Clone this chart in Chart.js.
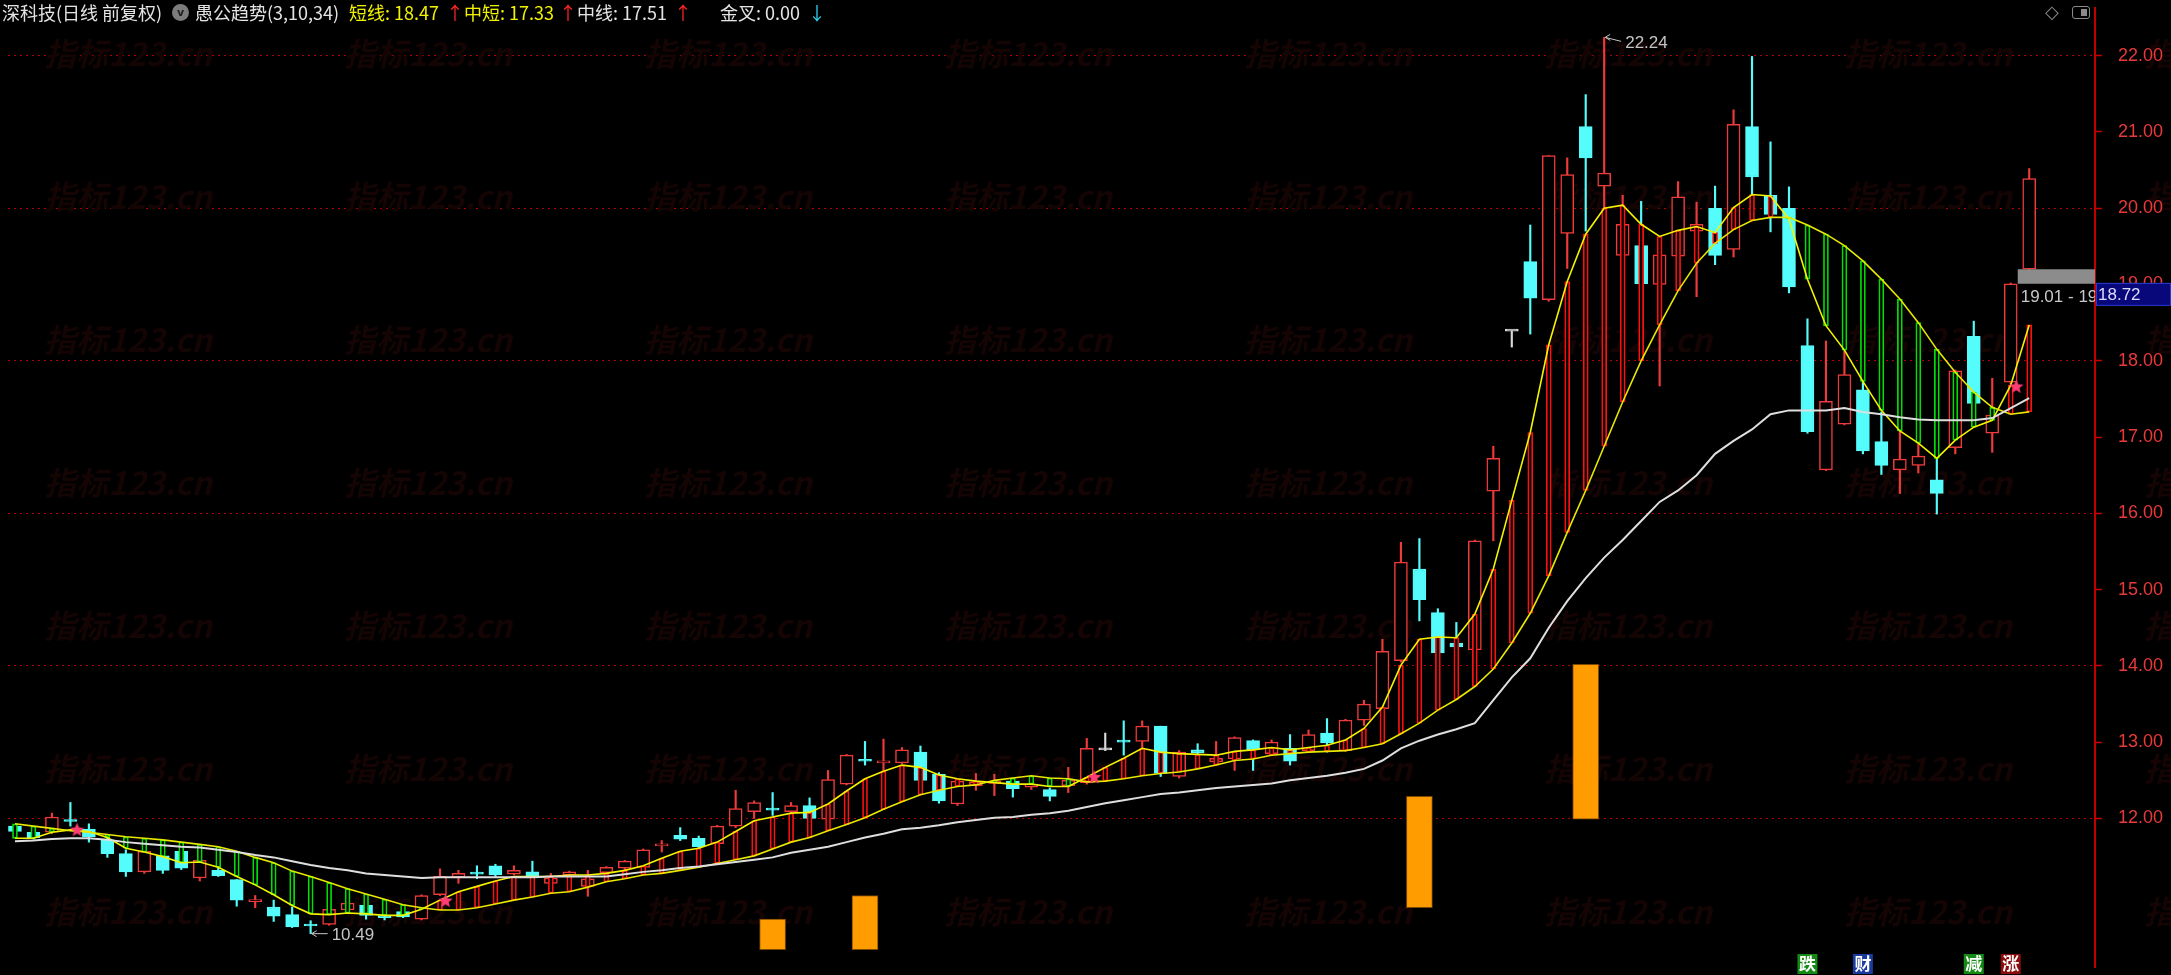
<!DOCTYPE html>
<html>
<head>
<meta charset="utf-8">
<script src="https://cdn.jsdelivr.net/npm/chart.js@4.4.0/dist/chart.umd.min.js"></script>
<style>
html, body { margin: 0; padding: 0; background: #000; overflow: hidden; }
#wrap { position: relative; width: 2171px; height: 975px; overflow: hidden; background: #000; }
#grafico { position: absolute; left: 0; top: 0; }
.hd { position: absolute; top: 1px; font-size: 18px; font-family: "Noto Sans CJK SC", sans-serif; line-height: 22px; white-space: nowrap; color: #e4e4e4; }
.yel { color: #f2f200; }
.up { color: #ff2424; }
.dn { color: #2ad4f2; }
#knob { position: absolute; left: 172px; top: 4px; width: 17px; height: 17px; border-radius: 50%; background: #7c7c7c; color: #202020; font: bold 11px "DejaVu Sans", sans-serif; line-height: 17px; text-align: center; }
#dia { position: absolute; left: 2045px; top: 1px; font: 18px "DejaVu Sans", sans-serif; color: #8a8a8a; }
#win { position: absolute; left: 2072px; top: 6px; width: 16px; height: 11px; border: 1.5px solid #8a8a8a; border-radius: 3px; }
#win div { position: absolute; right: 2px; top: 2px; width: 6px; height: 7px; background: #8a8a8a; }
</style>
</head>
<body>
<div id="wrap">
  <canvas id="grafico" width="2171" height="975"></canvas>
  <div class="hd" style="left:2px">深科技(日线 前复权)</div>
  <div id="knob">v</div>
  <div class="hd" style="left:195px">愚公趋势(3,10,34)</div>
  <div class="hd yel" style="left:349px" id="hShort"></div>
  <div class="hd up" style="left:446px">↑</div>
  <div class="hd yel" style="left:464px" id="hMid"></div>
  <div class="hd up" style="left:559px">↑</div>
  <div class="hd" style="left:577px" id="hLong"></div>
  <div class="hd up" style="left:674px">↑</div>
  <div class="hd" style="left:720px" id="hGold"></div>
  <div class="hd dn" style="left:808px">↓</div>
  <div id="dia">◇</div>
  <div id="win"><div></div></div>
</div>
<script>
// K线数据 (前复权)
const open = [11.90,11.82,11.82,11.98,11.86,11.72,11.54,11.30,11.51,11.57,
  11.22,11.32,11.20,10.91,10.84,10.74,10.61,10.61,10.80,10.86,
  10.72,10.78,10.68,11.00,11.23,11.29,11.38,11.27,11.30,11.15,
  11.26,11.11,11.29,11.35,11.36,11.64,11.78,11.74,11.67,11.90,
  12.09,12.13,12.09,12.17,11.99,12.45,12.77,12.73,12.73,12.87,
  12.58,12.19,12.43,12.46,12.49,12.41,12.38,12.43,12.47,12.90,
  13.02,13.01,13.21,12.55,12.90,12.74,12.78,13.02,12.85,12.92,
  12.89,13.12,12.89,13.29,13.44,14.07,15.27,14.70,14.30,14.21,
  16.29,18.39,19.30,18.80,19.67,21.07,20.29,19.38,19.51,19.00,
  19.37,19.70,20.00,19.46,21.07,20.17,20.00,18.20,16.57,17.17,
  17.62,16.94,16.57,16.63,16.44,16.86,18.32,17.05,17.72,19.20];
const high = [11.92,11.84,12.07,12.21,11.93,11.74,11.59,11.58,11.61,11.60,
  11.46,11.36,11.20,10.99,10.93,10.84,10.66,10.82,10.90,10.88,
  10.76,10.80,11.00,11.34,11.32,11.38,11.40,11.38,11.44,11.28,
  11.31,11.32,11.37,11.45,11.60,11.71,11.88,11.77,11.91,12.37,
  12.23,12.34,12.21,12.27,12.63,12.84,13.01,13.04,12.93,12.95,
  12.60,12.50,12.59,12.58,12.50,12.47,12.40,12.67,13.05,13.12,
  13.28,13.28,13.21,12.89,12.98,13.01,13.07,13.03,13.03,13.10,
  13.16,13.31,13.30,13.55,14.35,15.62,15.67,14.75,14.57,15.65,
  16.88,18.39,19.78,20.69,20.66,21.49,22.24,20.17,20.09,19.42,
  20.35,20.08,20.29,21.29,21.99,20.87,20.28,18.55,18.26,18.13,
  17.73,17.33,17.08,16.93,16.74,17.88,18.52,17.77,19.02,20.52];
const low = [11.80,11.73,11.80,11.90,11.69,11.49,11.24,11.28,11.28,11.33,
  11.18,11.24,10.85,10.83,10.65,10.57,10.49,10.60,10.79,10.68,
  10.67,10.70,10.67,10.99,11.15,11.21,11.24,11.26,11.19,11.02,
  11.22,10.98,11.20,11.23,11.33,11.56,11.71,11.61,11.65,11.88,
  12.00,12.04,12.05,11.99,11.98,12.44,12.70,12.48,12.72,12.48,
  12.20,12.17,12.37,12.30,12.28,12.38,12.23,12.34,12.45,12.89,
  12.83,12.93,12.55,12.53,12.84,12.70,12.63,12.63,12.84,12.70,
  12.87,12.87,12.88,13.22,13.40,14.05,14.59,14.15,14.23,14.20,
  15.64,18.18,18.35,18.78,19.21,19.70,19.99,19.35,18.98,17.67,
  19.30,18.84,19.26,19.36,20.18,19.69,18.89,17.05,16.56,17.16,
  16.78,16.51,16.26,16.53,15.99,16.78,17.43,16.80,17.70,19.18];
const close = [11.83,11.75,12.02,11.96,11.76,11.54,11.30,11.57,11.32,11.35,
  11.45,11.25,10.93,10.93,10.72,10.58,10.59,10.81,10.89,10.73,
  10.70,10.71,10.99,11.24,11.28,11.27,11.26,11.32,11.22,11.22,
  11.30,11.21,11.36,11.44,11.59,11.66,11.73,11.63,11.90,12.13,
  12.21,12.11,12.17,12.00,12.51,12.83,12.75,12.75,12.90,12.50,
  12.23,12.49,12.48,12.49,12.39,12.45,12.29,12.50,12.92,12.90,
  13.00,13.21,12.59,12.87,12.86,12.79,13.06,12.90,13.00,12.75,
  13.10,12.99,13.29,13.50,14.19,15.36,14.87,14.17,14.25,15.64,
  16.72,18.39,18.82,20.69,20.44,20.66,20.46,19.79,19.01,19.39,
  20.15,19.79,19.38,21.10,20.41,19.92,18.97,17.07,17.47,17.82,
  16.82,16.63,16.71,16.75,16.26,17.87,17.44,17.29,19.01,20.39];

// 愚公趋势 指标线
const shortLine = [11.74,11.74,11.82,11.85,11.83,11.75,11.61,11.56,11.50,11.42,
  11.43,11.36,11.24,11.13,11.00,10.86,10.75,10.74,10.76,10.75,
  10.73,10.73,10.81,10.93,11.04,11.11,11.18,11.24,11.24,11.24,
  11.26,11.26,11.28,11.32,11.38,11.48,11.57,11.61,11.69,11.83,
  11.97,12.02,12.07,12.08,12.19,12.36,12.52,12.62,12.70,12.67,
  12.57,12.52,12.49,12.47,12.45,12.45,12.42,12.42,12.54,12.67,
  12.79,12.92,12.87,12.85,12.84,12.83,12.88,12.90,12.93,12.90,
  12.93,12.96,13.03,13.18,13.46,14.01,14.35,14.38,14.37,14.68,
  15.27,16.17,17.06,18.21,19.04,19.66,20.00,20.04,19.79,19.63,
  19.71,19.76,19.68,20.01,20.18,20.16,19.86,19.07,18.46,18.14,
  17.73,17.35,17.08,16.92,16.72,16.96,17.13,17.22,17.68,18.47];
const midShort = [11.93,11.90,11.87,11.84,11.82,11.79,11.76,11.74,11.72,11.69,
  11.66,11.63,11.57,11.49,11.42,11.31,11.24,11.16,11.08,11.01,
  10.94,10.87,10.83,10.80,10.80,10.83,10.88,10.93,10.97,11.02,
  11.04,11.10,11.17,11.21,11.26,11.28,11.32,11.36,11.41,11.46,
  11.51,11.60,11.69,11.75,11.84,11.92,12.01,12.12,12.22,12.31,
  12.37,12.42,12.44,12.50,12.53,12.56,12.53,12.52,12.48,12.49,
  12.52,12.56,12.59,12.61,12.65,12.70,12.76,12.78,12.83,12.85,
  12.87,12.88,12.89,12.93,12.98,13.11,13.25,13.42,13.56,13.73,
  13.96,14.30,14.69,15.18,15.75,16.30,16.88,17.46,18.00,18.47,
  18.92,19.28,19.54,19.72,19.84,19.88,19.88,19.78,19.66,19.51,
  19.31,19.07,18.81,18.50,18.15,17.85,17.59,17.39,17.30,17.33];
const midLine = [11.70,11.71,11.73,11.74,11.74,11.72,11.69,11.67,11.65,11.63,
  11.62,11.59,11.56,11.52,11.49,11.44,11.39,11.35,11.32,11.28,
  11.26,11.24,11.22,11.23,11.23,11.23,11.23,11.23,11.23,11.24,
  11.24,11.24,11.24,11.27,11.30,11.32,11.35,11.37,11.40,11.43,
  11.46,11.49,11.55,11.59,11.63,11.69,11.75,11.80,11.86,11.88,
  11.91,11.95,11.98,12.01,12.02,12.05,12.07,12.10,12.15,12.20,
  12.24,12.28,12.32,12.34,12.37,12.40,12.42,12.44,12.46,12.50,
  12.53,12.56,12.60,12.65,12.76,12.92,13.02,13.10,13.17,13.25,
  13.55,13.85,14.10,14.50,14.85,15.15,15.42,15.65,15.90,16.15,
  16.30,16.50,16.78,16.95,17.10,17.30,17.35,17.35,17.35,17.38,
  17.33,17.30,17.26,17.23,17.22,17.22,17.22,17.25,17.38,17.51];
const goldCross = 0.00;

// 金叉星号
const starX = [3.36, 23.3, 58.4, 108.3];
const starY = [11.86, 10.93, 12.55, 17.67];

// 底部柱
const stickIdx = [41, 46, 76, 85];
const stickLow = [10.28, 10.28, 10.83, 11.99];
const stickHigh = [10.68, 10.99, 12.29, 14.02];

// 底部信号
const signalIdx = [97, 100, 106, 108];
const signalText = ['跌', '财', '减', '涨'];

// 缺口 / 现价
const gapIdx = 108;
const gapRange = [19.01, 19.20];
const curPrice = 18.72;

const yTicks = [12, 13, 14, 15, 16, 17, 18, 19, 20, 21, 22];

const RED = '#ee3a3a', CYAN = '#54fcfc', WHITE = '#d8d8d8';
const signalBg = { '跌': '#148a14', '财': '#1b3a9e', '减': '#148a14', '涨': '#8a0c0c' };

document.getElementById('hShort').textContent = '短线: ' + shortLine[shortLine.length - 1].toFixed(2);
document.getElementById('hMid').textContent = '中短: ' + midShort[midShort.length - 1].toFixed(2);
document.getElementById('hLong').textContent = '中线: ' + midLine[midLine.length - 1].toFixed(2);
document.getElementById('hGold').textContent = '金叉: ' + goldCross.toFixed(2);

const idx = open.map(function(_, i) { return i; });
const candleColor = idx.map(function(i) {
  return close[i] > open[i] ? RED : (close[i] < open[i] ? CYAN : WHITE);
});

function starImg(size, color) {
  const c = document.createElement('canvas');
  c.width = c.height = size;
  const g = c.getContext('2d');
  g.fillStyle = color;
  g.beginPath();
  for (let k = 0; k < 10; k++) {
    const r = k % 2 ? size * 0.22 : size * 0.5;
    const a = -Math.PI / 2 + k * Math.PI / 5;
    g.lineTo(size / 2 + r * Math.cos(a), size / 2 + r * Math.sin(a) + 1);
  }
  g.closePath();
  g.fill();
  return c;
}

function markExtreme(ctx, x, y, txt, dy) {
  ctx.save();
  ctx.strokeStyle = '#c4c4c4';
  ctx.lineWidth = 1;
  ctx.beginPath();
  ctx.moveTo(x + 1, y);
  ctx.lineTo(x + 17, y + dy);
  ctx.moveTo(x + 6, y - 3);
  ctx.lineTo(x + 1, y);
  ctx.lineTo(x + 6, y + 3);
  ctx.stroke();
  ctx.fillStyle = '#c4c4c4';
  ctx.font = '17px "Liberation Sans"';
  ctx.textBaseline = 'middle';
  ctx.fillText(txt, x + 21, y + dy + 2);
  ctx.restore();
}

const extras = {
  id: 'extras',
  beforeDatasetsDraw(chart) {
    // 水印
    const ctx = chart.ctx;
    ctx.save();
    ctx.font = 'italic bold 32px "Noto Sans CJK SC"';
    ctx.fillStyle = '#140404';
    ctx.textBaseline = 'middle';
    for (let c = 0; c < 8; c++) {
      for (let r = 0; r < 7; r++) {
        ctx.fillText('指标123.cn', 44 + 300 * c, 54 + 143 * r);
      }
    }
    ctx.restore();
  },
  afterDatasetsDraw(chart) {
    const ctx = chart.ctx, xs = chart.scales.x, ys = chart.scales.y, area = chart.chartArea;
    const hiIdx = high.indexOf(Math.max.apply(null, high));
    const loIdx = low.indexOf(Math.min.apply(null, low));
    markExtreme(ctx, xs.getPixelForValue(hiIdx), ys.getPixelForValue(high[hiIdx]), high[hiIdx].toFixed(2), 4);
    markExtreme(ctx, xs.getPixelForValue(loIdx), ys.getPixelForValue(low[loIdx]), low[loIdx].toFixed(2), 0);

    // 缺口
    const gx = xs.getPixelForValue(gapIdx) + 7;
    const gTop = ys.getPixelForValue(gapRange[1]), gBot = ys.getPixelForValue(gapRange[0]);
    ctx.save();
    ctx.beginPath();
    ctx.rect(area.left, area.top, area.right - area.left, area.bottom - area.top);
    ctx.clip();
    ctx.fillStyle = '#8c8c8c';
    ctx.fillRect(gx, gTop, area.right - gx, gBot - gTop);
    ctx.fillStyle = '#c8c8c8';
    ctx.font = '17px "Liberation Sans"';
    ctx.textBaseline = 'middle';
    ctx.fillText(gapRange[0].toFixed(2) + ' - ' + gapRange[1].toFixed(2), gx + 3, gBot + 14);
    ctx.restore();
  },
  afterDraw(chart) {
    const ctx = chart.ctx, xs = chart.scales.x, ys = chart.scales.y, area = chart.chartArea;
    ctx.save();
    // 价格刻度
    ctx.fillStyle = '#e83a3a';
    ctx.font = '18px "Liberation Sans"';
    ctx.textBaseline = 'middle';
    ctx.textAlign = 'left';
    ys.ticks.forEach(function(t) {
      ctx.fillText(t.value.toFixed(2), area.right + 23, ys.getPixelForValue(t.value));
    });
    // 现价框
    const py = ys.getPixelForValue(curPrice);
    ctx.fillStyle = '#08087a';
    ctx.fillRect(area.right + 1, py - 23, chart.width - area.right - 1, 23);
    ctx.strokeStyle = '#2a3ad0';
    ctx.lineWidth = 1;
    ctx.strokeRect(area.right + 1.5, py - 22.5, chart.width - area.right - 2, 22);
    ctx.fillStyle = '#dcdcff';
    ctx.font = '17px "Liberation Sans"';
    ctx.fillText(curPrice.toFixed(2), area.right + 3, py - 11);

    // 底部信号
    ctx.font = 'bold 17px "Noto Sans CJK SC"';
    ctx.textAlign = 'center';
    for (let k = 0; k < signalIdx.length; k++) {
      const sx = xs.getPixelForValue(signalIdx[k]);
      ctx.fillStyle = signalBg[signalText[k]];
      ctx.fillRect(sx - 10, 954, 20, 20);
      ctx.fillStyle = '#ffffff';
      ctx.fillText(signalText[k], sx, 964);
    }
    ctx.restore();
  }
};

Chart.defaults.font.family = '"Liberation Sans", sans-serif';

const barBase = { type: 'bar', grouped: false, borderSkipped: false };

const grafico = new Chart(document.getElementById('grafico'), {
  type: 'bar',
  data: {
    datasets: [
      Object.assign({}, barBase, {
        label: '柱',
        data: stickIdx.map(function(v, k) { return { x: v, y: [stickLow[k], stickHigh[k]] }; }),
        backgroundColor: '#ff9c00',
        borderColor: '#7a4800',
        borderWidth: 1,
        barThickness: 26,
        order: 6
      }),
      Object.assign({}, barBase, {
        label: '影线',
        data: idx.map(function(i) { return { x: i, y: [low[i], high[i]] }; }),
        backgroundColor: candleColor,
        borderWidth: 0,
        barThickness: 1.5,
        order: 5
      }),
      Object.assign({}, barBase, {
        label: '实体',
        data: idx.map(function(i) { return { x: i, y: [open[i], close[i]] }; }),
        backgroundColor: idx.map(function(i) { return close[i] > open[i] ? '#000000' : candleColor[i]; }),
        borderColor: candleColor,
        borderWidth: 1.5,
        barThickness: 13,
        minBarLength: 2,
        order: 4
      }),
      Object.assign({}, barBase, {
        label: '趋势柱',
        data: idx.map(function(i) { return { x: i, y: [shortLine[i], midShort[i]] }; }),
        backgroundColor: '#000000',
        borderColor: idx.map(function(i) { return shortLine[i] >= midShort[i] ? '#ff1010' : '#00e000'; }),
        borderWidth: 1.7,
        barThickness: 5,
        order: 3
      }),
      {
        type: 'line', label: '中线',
        data: idx.map(function(i) { return { x: i, y: midLine[i] }; }),
        borderColor: '#dedede', borderWidth: 2, pointRadius: 0, tension: 0, order: 2
      },
      {
        type: 'line', label: '中短',
        data: idx.map(function(i) { return { x: i, y: midShort[i] }; }),
        borderColor: '#e8e800', borderWidth: 1.6, pointRadius: 0, tension: 0, order: 2
      },
      {
        type: 'line', label: '短线',
        data: idx.map(function(i) { return { x: i, y: shortLine[i] }; }),
        borderColor: '#f4f400', borderWidth: 1.6, pointRadius: 0, tension: 0, order: 2
      },
      {
        type: 'line', label: '金叉', showLine: false,
        data: starX.map(function(v, k) { return { x: v, y: starY[k] }; }),
        pointStyle: starImg(15, '#ff3c74'), pointRadius: 7, order: 1
      }
    ]
  },
  options: {
    responsive: false,
    animation: false,
    events: [],
    layout: { padding: 0 },
    plugins: { legend: { display: false }, tooltip: { enabled: false } },
    scales: {
      x: { type: 'linear', min: -0.377, max: 112.56, offset: false, display: false },
      y: {
        type: 'linear', position: 'right', min: 10.053, max: 22.625,
        afterBuildTicks: function(s) { s.ticks = yTicks.map(function(v) { return { value: v }; }); },
        afterFit: function(s) { s.width = 76; s.paddingTop = 0; s.paddingBottom = 0; },
        grid: {
          color: function(c) { return c.tick && c.tick.value % 2 === 0 ? '#b40000' : 'rgba(0,0,0,0)'; },
          lineWidth: 1, drawTicks: true, tickLength: 7, tickColor: '#c80000', tickWidth: 1.5, tickBorderDash: []
        },
        border: { display: true, color: '#c00000', width: 2, dash: [2, 4] },
        ticks: { display: false }
      }
    }
  },
  plugins: [extras]
});
</script>
</body>
</html>
